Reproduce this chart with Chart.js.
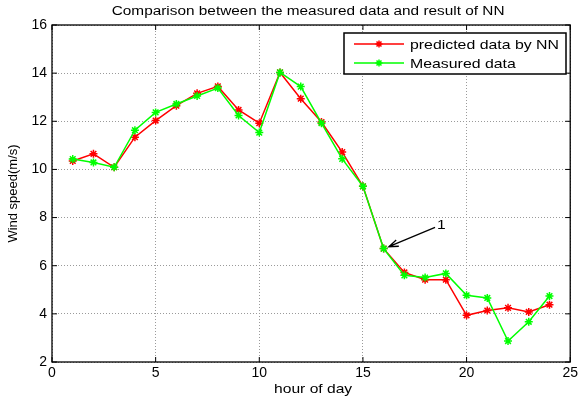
<!DOCTYPE html>
<html>
<head>
<meta charset="utf-8">
<script src="https://cdn.jsdelivr.net/npm/chart.js@4/dist/chart.umd.min.js"></script>
<style>
  html, body { margin: 0; padding: 0; background: #fff; }
  #wrap { width: 581px; height: 401px; }
</style>
</head>
<body>
<div id="wrap"><canvas id="c" width="581" height="401"></canvas></div>
<script>
// hours and wind speed values
const hours = [1, 2, 3, 4, 5, 6, 7, 8, 9, 10, 11, 12, 13, 14, 15, 16, 17, 18, 19, 20, 21, 22, 23, 24];
const predicted = [10.35, 10.65, 10.09, 11.34, 12.03, 12.65, 13.16, 13.45, 12.47, 11.92, 14.03, 12.94,
                   11.97, 10.72, 9.30, 6.71, 5.72, 5.42, 5.42, 3.94, 4.14, 4.25, 4.08, 4.38];
const measured = [10.43, 10.29, 10.09, 11.63, 12.37, 12.72, 13.05, 13.38, 12.24, 11.53, 14.03, 13.44,
                  11.92, 10.44, 9.30, 6.71, 5.60, 5.51, 5.68, 4.77, 4.66, 2.87, 3.67, 4.74];
const xTicks = [0, 5, 10, 15, 20, 25];
const yTicks = [2, 4, 6, 8, 10, 12, 14, 16];
const seriesNames = ['predicted data by NN', 'Measured data'];
const seriesColors = ['#ff0000', '#00ff00'];
// arrow label "1": [tailX, tailY, tipX, tipY]
const arrow = [18.48, 7.59, 16.25, 6.79];

const FONT = '"Liberation Sans", Arial, sans-serif';

function pts(ys) {
  return hours.map((h, i) => ({ x: h, y: ys[i] }));
}

// the source figure has its text stretched sideways, so draw it that way
function wideText(ctx, text, x, y, align, sx) {
  ctx.save();
  ctx.translate(x, y);
  ctx.scale(sx, 1);
  ctx.textAlign = align;
  ctx.fillText(text, 0, 0);
  ctx.restore();
}

const frame = {
  id: 'frame',
  afterDraw(chart) {
    const ctx = chart.ctx;
    const a = chart.chartArea;
    const xs = chart.scales.x, ys = chart.scales.y;
    ctx.save();
    ctx.fillStyle = '#000';
    ctx.textBaseline = 'middle';
    // title and x axis title
    ctx.font = '12px ' + FONT;
    wideText(ctx, 'Comparison between the measured data and result of NN', (a.left + a.right) / 2 - 3, 12, 'center', 1.28);
    ctx.font = '13px ' + FONT;
    wideText(ctx, 'hour of day', (a.left + a.right) / 2 + 2, 389, 'center', 1.2);

    // box
    ctx.strokeStyle = '#000';
    ctx.lineWidth = 1.3;
    ctx.strokeRect(a.left, a.top, a.right - a.left, a.bottom - a.top);
    // inward ticks
    ctx.lineWidth = 1;
    ctx.beginPath();
    xTicks.forEach(v => {
      const px = xs.getPixelForValue(v);
      ctx.moveTo(px, a.bottom); ctx.lineTo(px, a.bottom - 5);
      ctx.moveTo(px, a.top); ctx.lineTo(px, a.top + 5);
    });
    yTicks.forEach(v => {
      const py = ys.getPixelForValue(v);
      ctx.moveTo(a.left, py); ctx.lineTo(a.left + 5, py);
      ctx.moveTo(a.right, py); ctx.lineTo(a.right - 5, py);
    });
    ctx.stroke();

    // arrow annotation
    const x1 = xs.getPixelForValue(arrow[0]), y1 = ys.getPixelForValue(arrow[1]);
    const x2 = xs.getPixelForValue(arrow[2]), y2 = ys.getPixelForValue(arrow[3]);
    ctx.lineWidth = 1.3;
    ctx.beginPath();
    ctx.moveTo(x1, y1); ctx.lineTo(x2, y2);
    const ang = Math.atan2(y1 - y2, x1 - x2);
    const hl = 10, hw = 0.35;
    ctx.moveTo(x2 + hl * Math.cos(ang + hw), y2 + hl * Math.sin(ang + hw));
    ctx.lineTo(x2, y2);
    ctx.lineTo(x2 + hl * Math.cos(ang - hw), y2 + hl * Math.sin(ang - hw));
    ctx.stroke();
    ctx.font = '13px ' + FONT;
    wideText(ctx, '1', x1 + 2, y1 - 2, 'left', 1.2);

    // legend box
    const lx = 344, ly = 33, lw = 222, lh = 41;
    ctx.fillStyle = '#fff';
    ctx.fillRect(lx, ly, lw, lh);
    ctx.lineWidth = 1.5;
    ctx.strokeRect(lx, ly, lw, lh);
    seriesNames.forEach((name, i) => {
      const yy = ly + 11 + i * 19;
      ctx.strokeStyle = seriesColors[i];
      ctx.lineWidth = 1.5;
      ctx.beginPath();
      ctx.moveTo(lx + 10, yy); ctx.lineTo(lx + 60, yy);
      ctx.stroke();
      Chart.helpers.drawPoint(ctx, { pointStyle: 'star', radius: 3.5, borderWidth: 1.5 }, lx + 35, yy);
      ctx.fillStyle = '#000';
      ctx.font = '13px ' + FONT;
      wideText(ctx, name, lx + 66, yy + 1, 'left', 1.22);
    });
    ctx.restore();
  }
};

new Chart(document.getElementById('c'), {
  type: 'line',
  data: {
    datasets: [
      {
        label: seriesNames[0],
        data: pts(predicted),
        borderColor: seriesColors[0],
        backgroundColor: seriesColors[0],
        borderWidth: 1.5,
        pointStyle: 'star',
        pointRadius: 4,
        pointBorderWidth: 1.5,
        tension: 0,
        order: 1
      },
      {
        label: seriesNames[1],
        data: pts(measured),
        borderColor: seriesColors[1],
        backgroundColor: seriesColors[1],
        borderWidth: 1.5,
        pointStyle: 'star',
        pointRadius: 4,
        pointBorderWidth: 1.5,
        tension: 0,
        order: 0
      }
    ]
  },
  options: {
    responsive: false,
    animation: false,
    layout: { padding: { top: 25, right: 8.5, left: 0, bottom: 0 } },
    plugins: {
      legend: { display: false },
      title: { display: false },
      tooltip: { enabled: false }
    },
    scales: {
      x: {
        type: 'linear',
        min: 0,
        max: 25,
        afterFit(s) { s.height = 39; },
        afterBuildTicks(s) { s.ticks = xTicks.map(v => ({ value: v })); },
        ticks: { color: '#000', font: { family: FONT, size: 14 }, padding: 3, maxRotation: 0 },
        grid: { color: '#9a9a9a', lineWidth: 1, drawTicks: false },
        border: { display: false, dash: [1, 2] }
      },
      y: {
        min: 2,
        max: 16,
        afterFit(s) { s.width = 52; },
        afterBuildTicks(s) { s.ticks = yTicks.map(v => ({ value: v })); },
        ticks: { color: '#000', font: { family: FONT, size: 14 }, padding: 5 },
        grid: { color: '#9a9a9a', lineWidth: 1, drawTicks: false },
        border: { display: false, dash: [1, 2] },
        title: {
          display: true,
          text: 'Wind speed(m/s)',
          color: '#000',
          font: { family: FONT, size: 13 },
          padding: { top: 6, bottom: 0 }
        }
      }
    }
  },
  plugins: [frame]
});
</script>
</body>
</html>
